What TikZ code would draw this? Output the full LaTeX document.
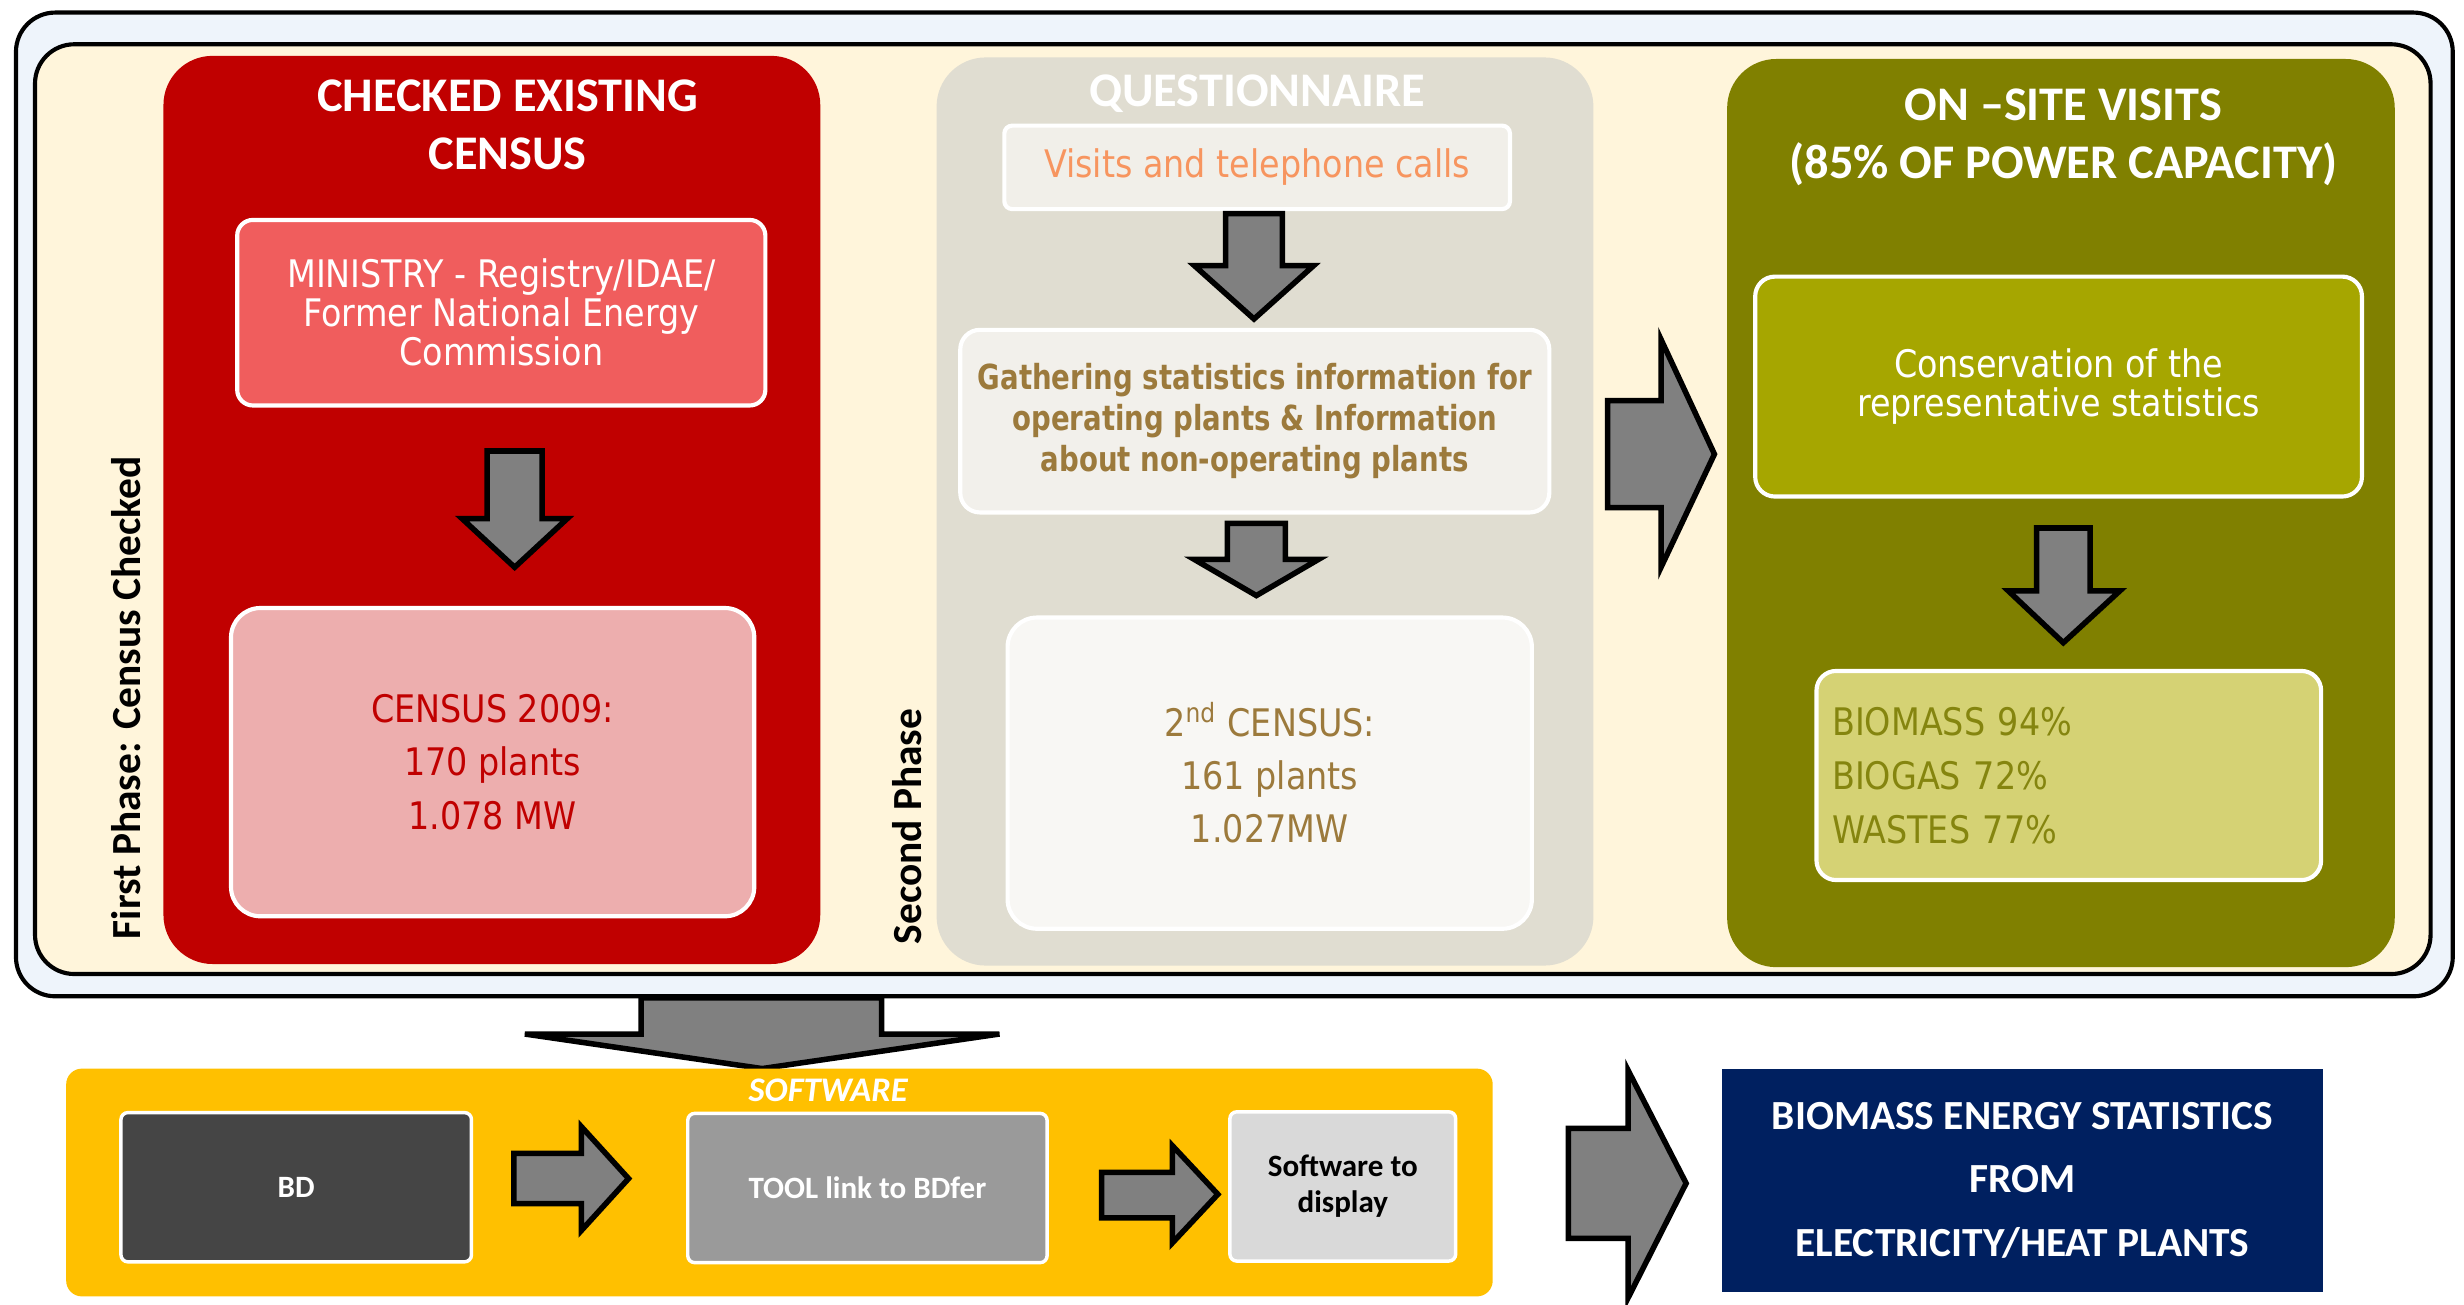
\documentclass[tikz,border=0pt]{standalone}
\usepackage{fontspec}
\setmainfont{DejaVu Sans}
\newfontfamily\boxfont{DejaVu Sans}[FakeStretch=0.88]
\newfontfamily\gatherfont{DejaVu Sans}[FakeStretch=0.8]
\newfontfamily\headfont{Carlito}
\usetikzlibrary{positioning}

\definecolor{frameblue}{HTML}{EEF4FB}
\definecolor{cream}{HTML}{FFF5DB}
\definecolor{darkred}{HTML}{C00000}
\definecolor{salmon}{HTML}{F05D5D}
\definecolor{pinkbox}{HTML}{EDAEAE}
\definecolor{sand}{HTML}{E0DDD1}
\definecolor{paleA}{HTML}{F1EFE9}
\definecolor{paleB}{HTML}{F2F0EB}
\definecolor{paleC}{HTML}{F8F7F4}
\definecolor{orangetxt}{HTML}{F7955F}
\definecolor{browntxt}{HTML}{9C7A3C}
\definecolor{olive}{HTML}{808000}
\definecolor{olivebox}{HTML}{A6A600}
\definecolor{olivelight}{HTML}{D5D274}
\definecolor{olivetxt}{HTML}{85850F}
\definecolor{yellowbox}{HTML}{FFC000}
\definecolor{darkgrey}{HTML}{454545}
\definecolor{midgrey}{HTML}{9A9A9A}
\definecolor{lightgrey}{HTML}{D9D9D9}
\definecolor{navy}{HTML}{002060}
\definecolor{arrowgrey}{HTML}{808080}

\begin{document}
\begin{tikzpicture}[x=0.016cm,y=-0.016cm,line join=miter,
  panel/.style={rounded corners=0.5cm,inner sep=0pt,minimum width=6.69cm,minimum height=9.25cm},
  title/.style={text=white,align=center,font=\headfont\bfseries\fontsize{14}{16.8}\selectfont},
  box/.style={draw=white,line width=1.2pt,inner sep=0pt,align=center},
  phase/.style={rotate=90,font=\headfont\bfseries\fontsize{12}{14}\selectfont},
  softbox/.style={draw=white,line width=1pt,rounded corners=2pt,inner sep=0pt,minimum height=1.52cm,align=center,font=\headfont\bfseries\fontsize{9}{10.5}\selectfont},
  blockarrow/.style={fill=arrowgrey,draw=black,line width=1.6pt}]
\useasboundingbox (0,0) rectangle (1568,830);

% frames
\node[draw=black,line width=1.2pt,fill=frameblue,rounded corners=0.4cm,inner sep=0pt,minimum width=24.82cm,minimum height=10.02cm] (outer) at (785.5,321) {};
\node[draw=black,line width=1.2pt,fill=cream,rounded corners=0.4cm,inner sep=0pt,minimum width=24.4cm,minimum height=9.47cm] (inner) at (784.5,324) {};

% first phase
\node[panel,fill=darkred] (checked) at (313,324.5) {};
\node[title] (checkedtitle) at (323,79.5) {CHECKED EXISTING\\CENSUS};
\node[box,fill=salmon,text=white,rounded corners=0.16cm,minimum width=5.38cm,minimum height=1.89cm,font=\boxfont\fontsize{11}{11.3}\selectfont] (ministry) at (319,199) {MINISTRY - Registry/IDAE/\\Former National Energy\\Commission};
\node[box,fill=pinkbox,text=darkred,rounded corners=0.3cm,minimum width=5.33cm,minimum height=3.14cm,font=\boxfont\fontsize{11}{15.4}\selectfont] (census09) at (313.5,485) {CENSUS 2009:\\170 plants\\1.078 MW};
\filldraw[blockarrow] (310,287)--(345,287)--(345,330)--(361,330)--(327.5,361)--(294,330)--(310,330)--cycle;
\node[phase] (phase1) at (80,444) {First Phase: Census Checked};

% second phase
\node[panel,fill=sand] (quest) at (805,325.5) {};
\node[title] (questtitle) at (800,59.5) {QUESTIONNAIRE};
\node[box,fill=paleA,text=orangetxt,rounded corners=0.08cm,minimum width=5.15cm,minimum height=0.85cm,font=\boxfont\fontsize{11}{13}\selectfont] (visits) at (800,106.5) {Visits and telephone calls};
\node[box,fill=paleB,text=browntxt,rounded corners=0.2cm,minimum width=6cm,minimum height=1.86cm,font=\gatherfont\bfseries\fontsize{10}{12}\selectfont] (gathering) at (798.5,268) {Gathering statistics information for\\operating plants \& Information\\about non-operating plants};
\node[box,fill=paleC,text=browntxt,rounded corners=0.3cm,minimum width=5.34cm,minimum height=3.17cm,font=\boxfont\fontsize{11}{15.4}\selectfont] (census2) at (808,492) {2\textsuperscript{nd} CENSUS:\\161 plants\\1.027MW};
\filldraw[blockarrow] (780,136)--(816,136)--(816,169)--(836,169)--(798,203)--(760,169)--(780,169)--cycle;
\filldraw[blockarrow] (781,333)--(818,333)--(818,356)--(839,356)--(799.5,379)--(760,356)--(781,356)--cycle;
\node[phase] (phase2) at (577,526) {Second Phase};

% third phase
\node[panel,fill=olive,minimum width=6.8cm] (onsite) at (1311.5,326.5) {};
\node[title] (onsitetitle) at (1313,87.5) {ON –SITE VISITS\\(85\% OF POWER CAPACITY)};
\node[box,fill=olivebox,text=white,rounded corners=0.2cm,minimum width=6.18cm,minimum height=2.24cm,font=\boxfont\fontsize{11}{11.3}\selectfont] (conserv) at (1310,246) {Conservation of the\\representative statistics};
\node[box,fill=olivelight,text=olivetxt,rounded corners=0.2cm,minimum width=5.14cm,minimum height=2.13cm,inner xsep=0.16cm,text width=4.82cm,align=left,font=\boxfont\fontsize{11}{15.6}\selectfont] (shares) at (1316.5,493.5) {BIOMASS 94\%\\BIOGAS 72\%\\WASTES 77\%};
\filldraw[blockarrow] (1023,255)--(1057,255)--(1057,216)--(1091,289)--(1057,361)--(1057,323)--(1023,323)--cycle;
\filldraw[blockarrow] (1296,336)--(1330,336)--(1330,376)--(1349,376)--(1313,409)--(1278,376)--(1296,376)--cycle;

% software row
\filldraw[blockarrow] (408,635)--(561,635)--(561,658)--(636,658)--(485,680)--(334,658)--(408,658)--cycle;
\node[fill=yellowbox,rounded corners=0.16cm,inner sep=0pt,minimum width=14.53cm,minimum height=2.32cm] (software) at (496,752.5) {};
\node[text=white,font=\headfont\bfseries\itshape\fontsize{10}{12}\selectfont] (softtitle) at (527,694) {SOFTWARE};
\node[softbox,fill=darkgrey,text=white,minimum width=3.57cm] (bd) at (188.5,755.5) {BD};
\node[softbox,fill=midgrey,text=white,minimum width=3.66cm] (tool) at (552,756) {TOOL link to BDfer};
\node[softbox,fill=lightgrey,text=black,minimum width=2.3cm] (display) at (854.5,755) {Software to\\display};
\filldraw[blockarrow] (327,734)--(370,734)--(370,717)--(400,750)--(370,783)--(370,766)--(327,766)--cycle;
\filldraw[blockarrow] (701,746)--(746,746)--(746,729)--(775,760)--(746,791)--(746,775)--(701,775)--cycle;

% result
\filldraw[blockarrow] (998,718)--(1036,718)--(1036,681)--(1073,753)--(1036,826)--(1036,788)--(998,788)--cycle;
\node[fill=navy,text=white,inner sep=0pt,minimum width=6.12cm,minimum height=2.27cm,align=center,font=\headfont\bfseries\fontsize{12}{18.4}\selectfont] (output) at (1287,751) {BIOMASS ENERGY STATISTICS\\FROM\\ELECTRICITY/HEAT PLANTS};
\end{tikzpicture}
\end{document}
